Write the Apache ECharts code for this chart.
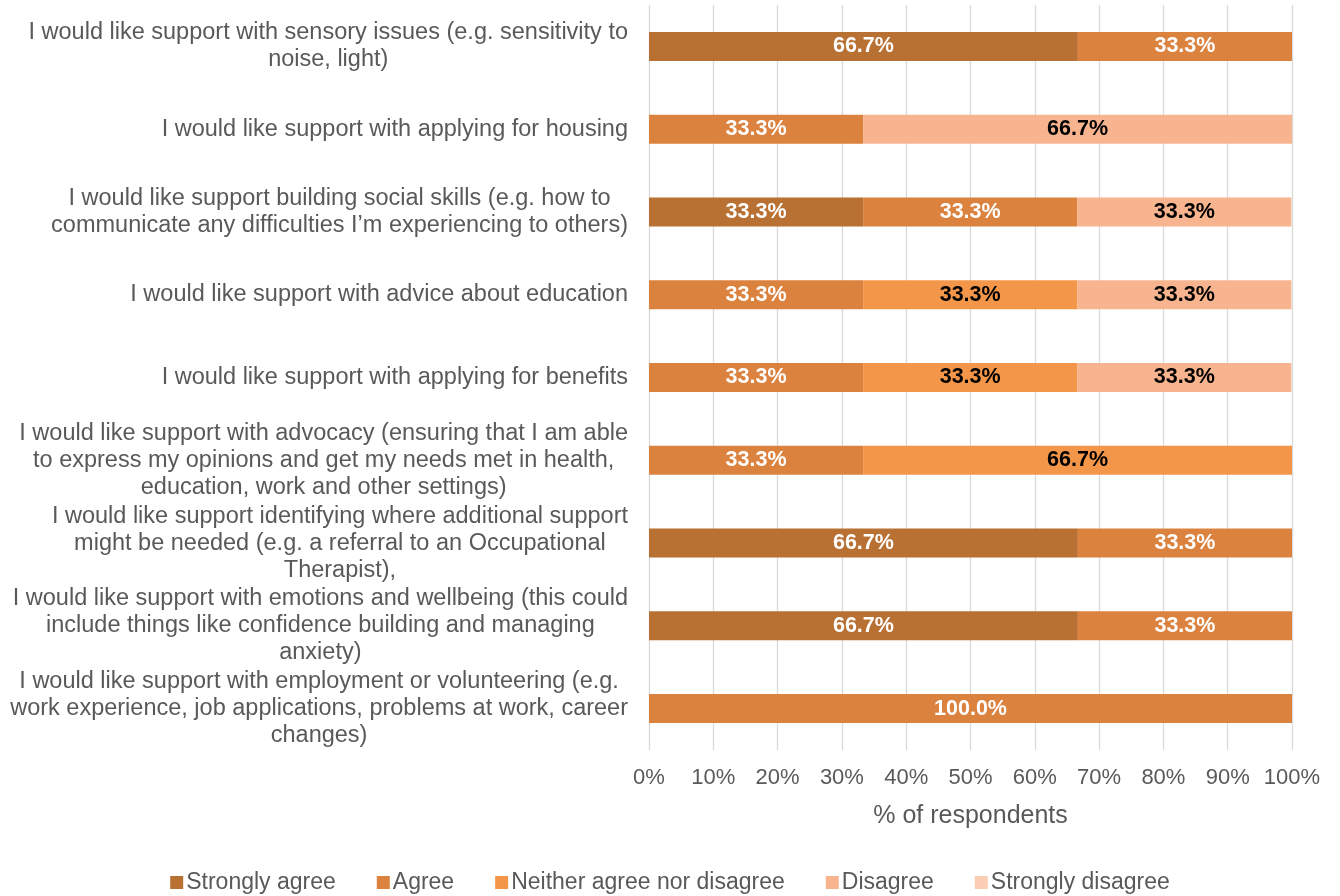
<!DOCTYPE html>
<html>
<head>
<meta charset="utf-8">
<script src="https://cdn.jsdelivr.net/npm/echarts@6/dist/echarts.min.js"></script>
<style>
  html, body { margin: 0; padding: 0; background: #fff; }
  #chart { width: 1340px; height: 896px; }
</style>
</head>
<body>
<div id="chart"></div>
<script>
// Statements, top to bottom (line breaks as shown on the axis)
const categories = [
  'I would like support with sensory issues (e.g. sensitivity to\nnoise, light)',
  'I would like support with applying for housing',
  'I would like support building social skills (e.g. how to\ncommunicate any difficulties I\u2019m experiencing to others)',
  'I would like support with advice about education',
  'I would like support with applying for benefits',
  'I would like support with advocacy (ensuring that I am able\nto express my opinions and get my needs met in health,\neducation, work and other settings)',
  'I would like support identifying where additional support\nmight be needed (e.g. a referral to an Occupational\nTherapist),',
  'I would like support with emotions and wellbeing (this could\ninclude things like confidence building and managing\nanxiety)',
  'I would like support with employment or volunteering (e.g.\nwork experience, job applications, problems at work, career\nchanges)'
];

// % of respondents per response option
const stronglyAgree    = [66.7, 0,    33.3, 0,    0,    0,    66.7, 66.7, 0];
const agree            = [33.3, 33.3, 33.3, 33.3, 33.3, 33.3, 33.3, 33.3, 100];
const neither          = [0,    0,    0,    33.3, 33.3, 66.7, 0,    0,    0];
const disagree         = [0,    66.7, 33.3, 33.3, 33.3, 0,    0,    0,    0];
const stronglyDisagree = [0,    0,    0,    0,    0,    0,    0,    0,    0];

const seriesNames = ['Strongly agree', 'Agree', 'Neither agree nor disagree', 'Disagree', 'Strongly disagree'];
const seriesData = [stronglyAgree, agree, neither, disagree, stronglyDisagree];
const seriesColors = ['#B87033', '#DB823F', '#F4964A', '#F7B48E', '#FBCDB5'];
const labelColors = ['#ffffff', '#ffffff', '#000000', '#000000', '#000000'];

const xTicks = [0, 10, 20, 30, 40, 50, 60, 70, 80, 90, 100];

const FONT = '"Liberation Sans", Arial, sans-serif';
const GREY = '#595959';

const chart = echarts.init(document.getElementById('chart'), null, { renderer: 'canvas' });

chart.setOption({
  backgroundColor: '#ffffff',
  animation: false,
  textStyle: { fontFamily: FONT },
  legend: {
    top: 866,
    left: 'center',
    itemWidth: 13,
    itemHeight: 13,
    itemGap: 41,
    icon: 'rect',
    textStyle: { color: GREY, fontSize: 23, fontFamily: FONT, padding: [0, 0, 0, -2] },
    data: seriesNames
  },
  grid: { left: 649, right: 48, top: 5, bottom: 146, containLabel: false },
  xAxis: {
    type: 'value',
    min: 0,
    max: 100,
    interval: 10,
    name: '% of respondents',
    nameLocation: 'middle',
    nameGap: 54,
    nameTextStyle: { color: GREY, fontSize: 25, fontFamily: FONT },
    axisLine: { show: false },
    axisTick: { show: false },
    axisLabel: {
      color: GREY,
      fontSize: 22,
      fontFamily: FONT,
      margin: 17,
      formatter: v => (xTicks.indexOf(v) >= 0 ? v + '%' : '')
    },
    splitLine: { show: true, lineStyle: { color: '#d9d9d9', width: 1.3 } }
  },
  yAxis: {
    type: 'category',
    inverse: true,
    data: categories,
    axisLine: { show: false },
    axisTick: { show: false },
    axisLabel: {
      margin: 21,
      align: 'right',
      color: GREY,
      fontSize: 23.5,
      fontFamily: FONT,
      lineHeight: 27,
      formatter: v => v.split('\n').map(l => '{c|' + l + '}').join('\n'),
      rich: {
        c: { align: 'center', color: GREY, fontSize: 23.5, fontFamily: FONT, lineHeight: 27 }
      }
    },
    splitLine: { show: false }
  },
  series: seriesNames.map((name, i) => ({
    name: name,
    type: 'bar',
    stack: 'total',
    barWidth: 29,
    itemStyle: { color: seriesColors[i] },
    label: {
      show: true,
      position: 'inside',
      color: labelColors[i],
      fontSize: 21.5,
      fontWeight: 'bold',
      fontFamily: FONT,
      formatter: p => (p.value > 0 ? p.value.toFixed(1) + '%' : '')
    },
    data: seriesData[i]
  }))
});
</script>
</body>
</html>
